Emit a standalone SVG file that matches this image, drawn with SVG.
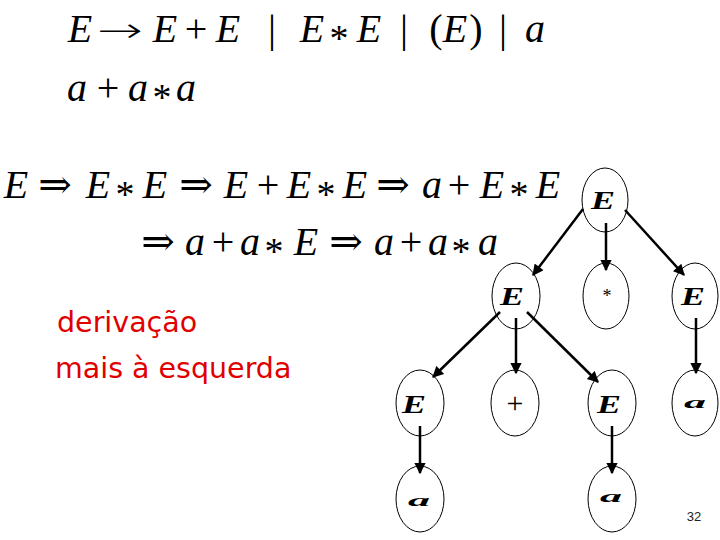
<svg xmlns="http://www.w3.org/2000/svg" width="720" height="540" viewBox="0 0 720 540">
<style>
.m{font-family:"Liberation Serif","Times New Roman",serif;font-style:italic;font-size:40px;fill:#000;text-anchor:middle}
.o{font-family:"Liberation Serif","DejaVu Serif",serif;font-style:normal;font-size:40px;fill:#000;text-anchor:middle}
.s{font-family:"Liberation Serif",serif;font-style:normal;font-size:38px;fill:#000;text-anchor:middle}
.ar{font-family:"DejaVu Sans",sans-serif;font-weight:200;font-size:34px;fill:#000}
.r{font-family:"DejaVu Sans","Comic Sans MS",sans-serif;font-size:28.5px;fill:#E00000}
.n{fill:none;stroke:#000;stroke-width:1}
.lE{font-family:"Liberation Serif",serif;font-style:italic;font-weight:bold;font-size:26px}
.la{font-family:"Liberation Serif",serif;font-style:italic;font-weight:bold;font-size:17px}
.c line{stroke:#000;stroke-width:2.5;marker-end:url(#ah)}
</style>
<defs>
<marker id="ah" viewBox="0 0 10 10" refX="9" refY="5" markerWidth="5" markerHeight="4.5" orient="auto" markerUnits="strokeWidth">
<path d="M0,0 L10,5 L0,10 z" fill="#000"/>
</marker>
</defs>
<rect width="720" height="540" fill="#fff"/>
<g id="grammar">
<text class="m" x="80" y="42">E</text>
<text class="ar" x="97" y="42" textLength="46" lengthAdjust="spacingAndGlyphs">→</text>
<text class="m" x="165" y="42">E</text>
<text class="o" x="196" y="42">+</text>
<text class="m" x="228" y="42">E</text>
<text class="o" x="272" y="42">|</text>
<text class="m" x="312" y="42">E</text>
<text class="s" x="339" y="51">*</text>
<text class="m" x="369" y="42">E</text>
<text class="o" x="404" y="42">|</text>
<text class="o" x="436" y="42">(</text>
<text class="m" x="455" y="42">E</text>
<text class="o" x="476" y="42">)</text>
<text class="o" x="503" y="42">|</text>
<text class="m" x="535" y="42">a</text>
</g>
<g id="input">
<text class="m" x="77" y="101">a</text>
<text class="o" x="108" y="101">+</text>
<text class="m" x="138" y="101">a</text>
<text class="s" x="162" y="110">*</text>
<text class="m" x="186" y="101">a</text>
</g>
<g id="derivation1">
<text class="m" x="16" y="198">E</text>
<text class="o" x="55" y="198">⇒</text>
<text class="m" x="98" y="198">E</text>
<text class="s" x="125" y="207">*</text>
<text class="m" x="155" y="198">E</text>
<text class="o" x="196" y="198">⇒</text>
<text class="m" x="236" y="198">E</text>
<text class="o" x="268" y="198">+</text>
<text class="m" x="299" y="198">E</text>
<text class="s" x="326" y="207">*</text>
<text class="m" x="355" y="198">E</text>
<text class="o" x="393" y="198">⇒</text>
<text class="m" x="432" y="198">a</text>
<text class="o" x="459" y="198">+</text>
<text class="m" x="492" y="198">E</text>
<text class="s" x="519" y="207">*</text>
<text class="m" x="548" y="198">E</text>
</g>
<g id="derivation2">
<text class="o" x="158" y="255">⇒</text>
<text class="m" x="195" y="255">a</text>
<text class="o" x="223" y="255">+</text>
<text class="m" x="250" y="255">a</text>
<text class="s" x="274" y="264">*</text>
<text class="m" x="306" y="255">E</text>
<text class="o" x="346" y="255">⇒</text>
<text class="m" x="384" y="255">a</text>
<text class="o" x="411" y="255">+</text>
<text class="m" x="438" y="255">a</text>
<text class="s" x="461" y="264">*</text>
<text class="m" x="488" y="255">a</text>
</g>
<g id="label">
<text class="r" x="57" y="332">derivação</text>
<text class="r" x="55" y="378">mais à esquerda</text>
</g>
<g class="c" id="connectors">
<line x1="583" y1="209" x2="533" y2="275"/>
<line x1="606" y1="223" x2="606" y2="270"/>
<line x1="625" y1="210" x2="684" y2="275"/>
<line x1="500" y1="312" x2="433" y2="377"/>
<line x1="516" y1="318" x2="516" y2="373"/>
<line x1="527" y1="312" x2="598" y2="382"/>
<line x1="696" y1="318" x2="696" y2="373"/>
<line x1="420" y1="426" x2="420" y2="473"/>
<line x1="612" y1="426" x2="612" y2="473"/>
</g>
<g id="n_root"><ellipse class="n" cx="605" cy="200" rx="23" ry="32"/><text class="lE" x="591" y="209" textLength="24" lengthAdjust="spacingAndGlyphs">E</text></g>
<g id="n_E1"><ellipse class="n" cx="516" cy="296" rx="24" ry="33"/><text class="lE" x="500" y="305" textLength="24" lengthAdjust="spacingAndGlyphs">E</text></g>
<g id="n_star"><ellipse class="n" cx="606" cy="296" rx="23" ry="33"/><text x="607" y="302" style="font-family:'Liberation Serif',serif;font-size:18px;text-anchor:middle">*</text></g>
<g id="n_E2"><ellipse class="n" cx="695" cy="296" rx="23" ry="33"/><text class="lE" x="681" y="305" textLength="24" lengthAdjust="spacingAndGlyphs">E</text></g>
<g id="n_E3"><ellipse class="n" cx="420" cy="403" rx="24" ry="33"/><text class="lE" x="402" y="413" textLength="24" lengthAdjust="spacingAndGlyphs">E</text></g>
<g id="n_plus"><ellipse class="n" cx="515" cy="403" rx="24" ry="33"/><text x="515" y="413" style="font-family:'Liberation Serif',serif;font-size:30px;text-anchor:middle">+</text></g>
<g id="n_E4"><ellipse class="n" cx="612" cy="403" rx="24" ry="33"/><text class="lE" x="597" y="413" textLength="24" lengthAdjust="spacingAndGlyphs">E</text></g>
<g id="n_a1"><ellipse class="n" cx="695" cy="403" rx="23" ry="33"/><text class="la" x="684" y="408" textLength="22" lengthAdjust="spacingAndGlyphs">a</text></g>
<g id="n_a2"><ellipse class="n" cx="420" cy="499" rx="24" ry="33"/><text class="la" x="408" y="506" textLength="22" lengthAdjust="spacingAndGlyphs">a</text></g>
<g id="n_a3"><ellipse class="n" cx="612" cy="499" rx="24" ry="33"/><text class="la" x="600" y="502" textLength="22" lengthAdjust="spacingAndGlyphs">a</text></g>
<text x="694" y="521" style="font-family:'Liberation Sans',sans-serif;font-size:13px;text-anchor:middle;fill:#222">32</text>
</svg>
